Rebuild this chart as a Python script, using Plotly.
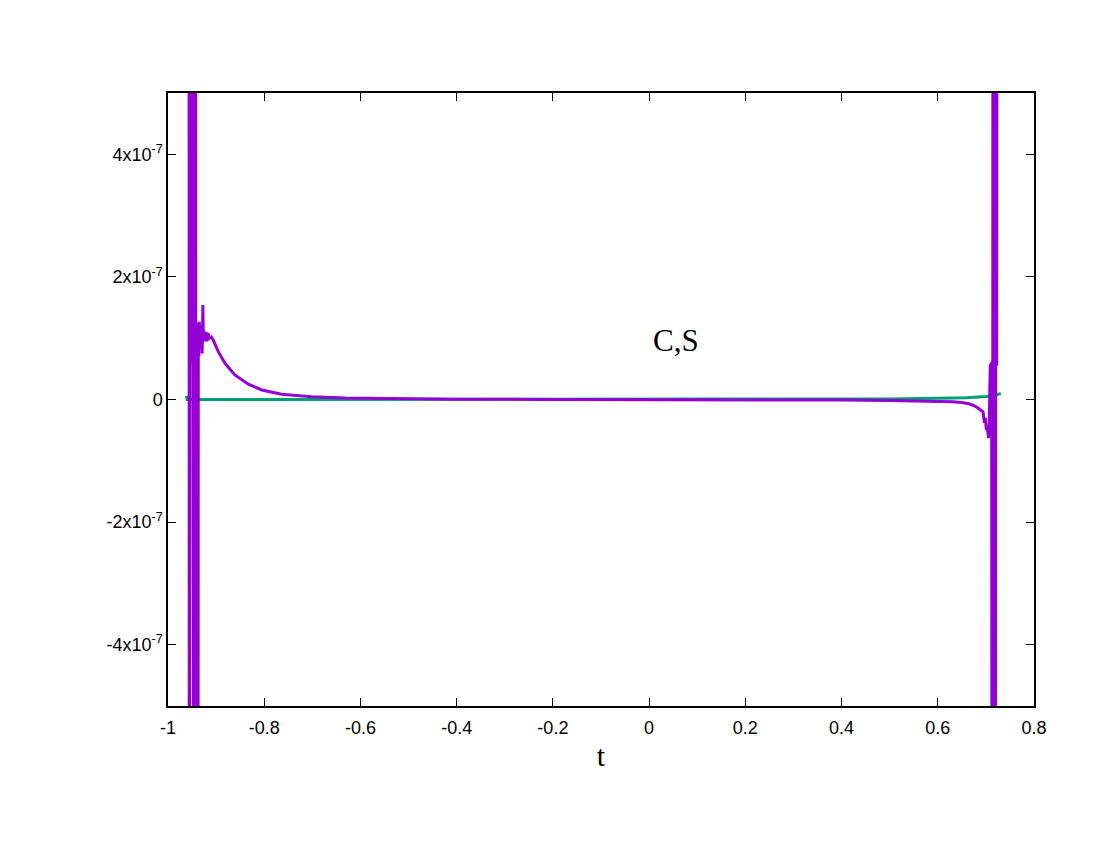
import plotly.graph_objects as go

# C series (green), values in units of 1e-7
t_c = [-0.962, -0.960, -0.955, -0.9, -0.7, -0.5, -0.3, 0.0, 0.3, 0.5, 0.6, 0.66, 0.70, 0.72, 0.731]
c_vals = [0.06, 0.0, 0.0, 0.0, 0.0, 0.0, 0.0, 0.0, 0.005, 0.01, 0.02, 0.03, 0.05, 0.07, 0.1]

# S series (violet), values in units of 1e-7 (values beyond +-5 are off the plot)
t_s = [-0.9565, -0.9555, -0.9540, -0.9525, -0.9515, -0.9445, -0.9430, -0.9415, -0.9400,
       -0.9385, -0.9370, -0.9360, -0.9350, -0.9330, -0.9310, -0.9290, -0.9275, -0.9265,
       -0.9250, -0.9230, -0.9210, -0.9190, -0.9170, -0.914, -0.910, -0.906, -0.901, -0.8955,
       -0.8815, -0.861, -0.833, -0.805, -0.764, -0.7015, -0.632, -0.535, -0.4, -0.2, 0.0,
       0.2, 0.4, 0.5, 0.56, 0.6, 0.63, 0.65, 0.665, 0.675, 0.682, 0.690, 0.694, 0.697, 0.699,
       0.701, 0.703, 0.7055, 0.707, 0.709, 0.712, 0.7135, 0.715, 0.7165, 0.718, 0.7195,
       0.721, 0.7225, 0.724]
s_vals = [20, -20, 20, 0.6, 20, -20, 20, -20, -1.2,
          -20, 1.25, 0.7, 1.27, 0.9, 1.2, 0.75, 1.54, 1.0,
          1.12, 0.95, 1.1, 0.95, 1.08, 1.0, 1.02, 0.97, 0.88, 0.78,
          0.59, 0.40, 0.25, 0.155, 0.085, 0.045, 0.025, 0.013, 0.005, 0.0, 0.0,
          -0.005, -0.01, -0.015, -0.02, -0.025, -0.035, -0.05, -0.07, -0.1, -0.13, -0.18, -0.2,
          -0.38, -0.3, -0.5, -0.45, -0.63, -0.4, 0.55, 0.6, -20, 20, -20, 20, -20,
          20, 0.55, 20]

y_tickvals = [-4, -2, 0, 2, 4]
y_ticktext = ["-4x10<sup>-7</sup>", "-2x10<sup>-7</sup>", "0", "2x10<sup>-7</sup>", "4x10<sup>-7</sup>"]
x_tickvals = [-1, -0.8, -0.6, -0.4, -0.2, 0, 0.2, 0.4, 0.6, 0.8]
x_ticktext = ["-1", "-0.8", "-0.6", "-0.4", "-0.2", "0", "0.2", "0.4", "0.6", "0.8"]

fig = go.Figure()
fig.add_trace(go.Scatter(x=t_c, y=c_vals, mode="lines", name="C",
                         line=dict(color="#009E73", width=3)))
fig.add_trace(go.Scatter(x=t_s, y=s_vals, mode="lines", name="S",
                         line=dict(color="#9400D3", width=3)))

fig.add_annotation(x=0.056, y=0.97, text="C,S", showarrow=False,
                   font=dict(family="Liberation Serif", size=31, color="black"))

axis_common = dict(showline=True, linecolor="black", linewidth=1.5, mirror="allticks",
                   ticks="inside", ticklen=8, tickcolor="black", showgrid=False,
                   zeroline=False, tickfont=dict(family="Liberation Sans", size=18, color="black"))

fig.update_xaxes(range=[-1, 0.8], tickvals=x_tickvals, ticktext=x_ticktext,
                 ticklabelstandoff=5,
                 title=dict(text="t", font=dict(family="Liberation Serif", size=30, color="black"),
                            standoff=8),
                 **axis_common)
fig.update_yaxes(range=[-5, 5], tickvals=y_tickvals, ticktext=y_ticktext, **axis_common)

fig.update_layout(width=1100, height=850, showlegend=False,
                  plot_bgcolor="white", paper_bgcolor="white",
                  margin=dict(l=160, r=74, t=85, b=152))

fig.write_html("out.html")
